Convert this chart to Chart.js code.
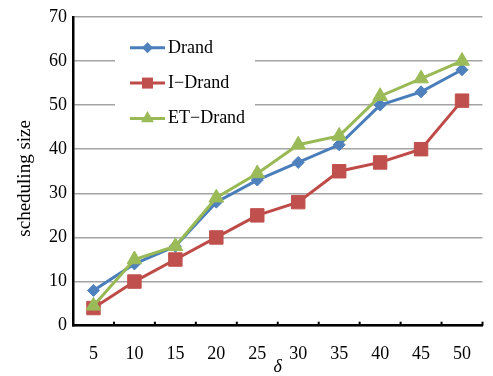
<!DOCTYPE html>
<html>
<head>
<meta charset="utf-8">
<script src="https://cdn.jsdelivr.net/npm/chart.js@4.4.0/dist/chart.umd.min.js"></script>
<style>
  html, body { margin: 0; padding: 0; background: #fff; }
</style>
</head>
<body>
<canvas id="chart" width="493" height="376"></canvas>
<script>
// --- data ---
const deltaLabels = ['5', '10', '15', '20', '25', '30', '35', '40', '45', '50'];
const seriesNames = ['Drand', 'I\u2212Drand', 'ET\u2212Drand'];
const drandValues = [8, 14, 18, 28, 33, 37, 41, 50, 53, 58];
const iDrandValues = [4, 10, 15, 20, 25, 28, 35, 37, 40, 51];
const etDrandValues = [4.5, 15, 18, 29, 34.5, 41, 43, 52, 56, 60];
const yMin = 0, yMax = 70, yStep = 10;

const serif = "'Liberation Serif', 'Times New Roman', serif";
const lineColors = ['#4a7ebb', '#be4b48', '#98b954'];
const markColors = ['#4f81bd', '#c0504d', '#9bbb59'];
const markStyles = ['rectRot', 'rect', 'triangle'];

// small marker painter for the legend (line + marker like the original)
const drawMarker = (ctx, style, x, y, color) => {
    ctx.fillStyle = color;
    ctx.beginPath();
    if (style === 'rectRot') {
        const r = 5.5;
        ctx.moveTo(x - r, y); ctx.lineTo(x, y - r); ctx.lineTo(x + r, y); ctx.lineTo(x, y + r);
    } else if (style === 'rect') {
        ctx.rect(x - 5.5, y - 5.5, 11, 11);
    } else {
        const r = 7.5;
        ctx.moveTo(x, y - r);
        ctx.lineTo(x + r * 0.866, y + r * 0.5);
        ctx.lineTo(x - r * 0.866, y + r * 0.5);
    }
    ctx.closePath();
    ctx.fill();
};

// legend box sitting inside the plot, white background hides the grid
const insideLegend = {
    id: 'insideLegend',
    afterDraw(chart) {
        const { ctx, chartArea } = chart;
        const left = chartArea.left, top = chartArea.top;
        ctx.save();
        ctx.fillStyle = '#fff';
        ctx.fillRect(left + 42, top + 3, 140, 120);
        seriesNames.forEach((name, i) => {
            const y = top + 31 + i * 35.3;
            ctx.strokeStyle = lineColors[i];
            ctx.lineWidth = 3;
            ctx.beginPath();
            ctx.moveTo(left + 57, y);
            ctx.lineTo(left + 92, y);
            ctx.stroke();
            drawMarker(ctx, markStyles[i], left + 74.5, y, markColors[i]);
            ctx.fillStyle = '#000';
            ctx.font = `18px ${serif}`;
            ctx.textBaseline = 'middle';
            ctx.textAlign = 'left';
            ctx.fillText(name, left + 95, y);
        });
        ctx.restore();
    }
};

// short inward tick marks on the category boundaries of the x axis
const xTickMarks = {
    id: 'xTickMarks',
    afterDraw(chart) {
        const xs = chart.scales.x;
        const ctx = chart.ctx;
        const bottom = chart.chartArea.bottom;
        const step = xs.getPixelForValue(1) - xs.getPixelForValue(0);
        const start = xs.getPixelForValue(0) - step / 2;
        ctx.save();
        ctx.strokeStyle = '#000';
        ctx.lineWidth = 2;
        for (let i = 0; i <= deltaLabels.length; i++) {
            const px = start + i * step;
            ctx.beginPath();
            ctx.moveTo(px, bottom);
            ctx.lineTo(px, bottom - 4);
            ctx.stroke();
        }
        ctx.restore();
    }
};

const makeSet = (i, data, radius, order) => ({
    label: seriesNames[i],
    data: data,
    borderColor: lineColors[i],
    backgroundColor: markColors[i],
    pointBackgroundColor: markColors[i],
    pointBorderColor: markColors[i],
    pointBorderWidth: 1,
    pointStyle: markStyles[i],
    pointRadius: radius,
    borderWidth: 3,
    tension: 0,
    order: order
});

new Chart(document.getElementById('chart'), {
    type: 'line',
    data: {
        labels: deltaLabels,
        datasets: [
            makeSet(0, drandValues, 6, 1),
            makeSet(1, iDrandValues, 9.5, 2),
            makeSet(2, etDrandValues, 8.5, 0)
        ]
    },
    options: {
        responsive: false,
        animation: false,
        layout: { padding: { top: 16, right: 6, left: 0, bottom: 0 } },
        plugins: {
            legend: { display: false },
            tooltip: { enabled: false }
        },
        scales: {
            x: {
                offset: true,
                grid: { display: false },
                border: { display: true, color: '#000', width: 2.5 },
                ticks: { color: '#000', padding: 10, maxRotation: 0, font: { family: serif, size: 18 } },
                title: {
                    display: true,
                    text: '\u03b4',
                    color: '#000',
                    padding: { top: 0, bottom: 0 },
                    font: { family: serif, size: 18, style: 'italic', lineHeight: 1 }
                },
                afterFit: (s) => { s.height = 50.3; }
            },
            y: {
                min: yMin,
                max: yMax,
                grid: { color: '#a3a3a3', lineWidth: 1.5, drawTicks: false },
                border: { display: true, color: '#000', width: 2.5 },
                ticks: { stepSize: yStep, color: '#000', padding: 6, font: { family: serif, size: 18 } },
                title: {
                    display: true,
                    // trailing spaces nudge the rotated title down a little, as in the original
                    text: 'scheduling size   ',
                    color: '#000',
                    padding: { top: 14, bottom: 0 },
                    font: { family: serif, size: 19 }
                },
                afterFit: (s) => { s.width = 73; }
            }
        }
    },
    plugins: [insideLegend, xTickMarks]
});
</script>
</body>
</html>
